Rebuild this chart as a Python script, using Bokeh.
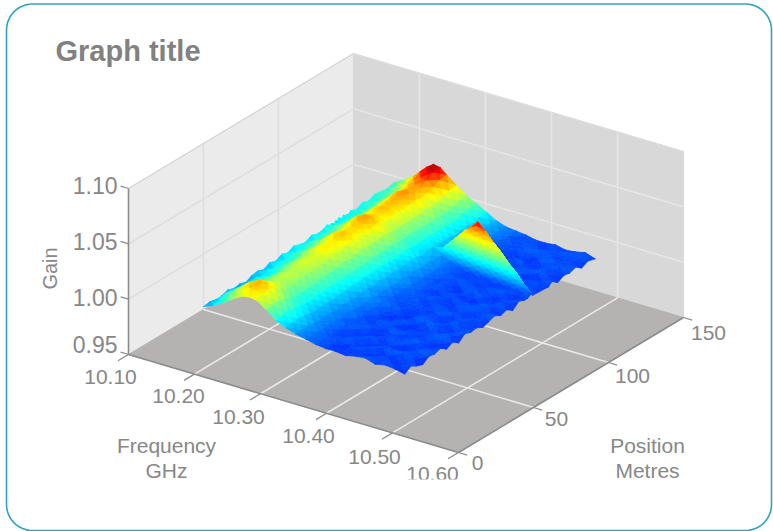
import math
from bokeh.plotting import figure
from bokeh.models import Range1d
from bokeh.core.properties import value
from bokeh.embed import file_html
from bokeh.resources import INLINE

title_text = "Graph title"
freq_ticks = [10.10, 10.20, 10.30, 10.40, 10.50, 10.60]
pos_ticks = [0, 50, 100, 150]
gain_ticks = [0.95, 1.00, 1.05, 1.10]

frequency_ghz = [10.20, 10.215, 10.23, 10.24, 10.25, 10.26, 10.27, 10.28, 10.295, 10.31, 10.325,
                 10.34, 10.355, 10.37, 10.385, 10.40, 10.415, 10.43, 10.445, 10.46, 10.475, 10.49, 10.505]
position_m = [6, 10, 14, 18, 22, 26, 30, 34, 38, 42, 46, 50, 54, 58, 62, 66, 70, 74, 78, 82, 86,
              88, 90, 91, 92, 93, 94, 95, 96, 97, 98, 99, 100, 101, 102,
              104, 108, 112, 116, 120, 124, 128, 133]
# foot of the second ridge, one value per frequency from 10.34 GHz on
ridge_foot_m = [95.5, 95, 94.5, 94, 93.5, 93, 92.5, 92, 91.5, 91, 90.5, 90]

# gain above 1.000, in thousandths; one row per frequency, one column per position
gain_milli = [
 [6,7,5,6,8,6,7,5,8,9,7,10,8,11,9,12,10,9,12,10,11, 13,10,12,11,9,12,10,13,11,10,13,11,12,10, 13,11,14,12,15,14,13,15],
 [10,12,14,13,12,11,10,12,10,12,11,13,12,14,13,13,15,13,15,14,16, 15,14,15,13,14,13,15,14,14,15,14,15,13,14, 15,14,16,15,16,17,19,20],
 [15,18,20,19,16,14,14,15,13,15,16,15,16,18,17,18,19,18,18,19,21, 20,19,19,18,18,19,18,19,20,19,20,18,19,20, 19,20,21,20,21,23,25,26],
 [19,22,25,23,20,17,18,18,17,18,20,19,20,22,21,22,24,23,22,24,26, 25,23,23,23,22,23,23,23,24,24,24,23,23,24, 24,25,26,25,26,28,31,32],
 [23,27,30,28,23,21,21,22,21,22,23,23,23,26,25,26,29,27,27,29,31, 30,28,28,27,27,27,28,28,29,29,29,28,28,29, 29,30,32,30,31,33,37,38],
 [26,30,33,31,26,23,23,24,23,24,26,25,26,29,28,29,32,30,30,32,34, 33,31,31,30,30,30,31,31,32,32,32,31,31,32, 32,33,35,33,34,37,41,42],
 [27,30,32,30,26,24,23,24,23,24,25,25,26,28,28,29,31,29,30,31,33, 32,30,30,30,29,29,30,30,31,31,31,30,30,31, 31,32,34,32,33,36,40,41],
 [26,28,29,27,23,21,20,22,21,22,23,23,24,26,25,26,28,27,27,28,30, 29,27,28,26,27,26,27,28,28,28,28,27,28,28, 28,29,30,29,30,32,35,36],
 [20,21,21,20,17,16,16,17,17,18,18,18,19,21,20,21,23,22,22,23,24, 23,22,22,22,21,22,22,23,23,22,23,22,22,23, 23,23,25,23,24,26,28,29],
 [13,14,15,14,13,12,12,13,13,14,14,14,15,16,16,16,18,17,17,18,19, 18,17,18,17,17,18,17,18,18,18,18,17,17,18, 18,18,19,18,19,20,22,23],
 [9,10,11,10,9,8,9,9,9,10,10,11,11,12,12,12,13,13,12,13,14, 14,13,12,13,12,13,13,14,13,14,13,14,13,14, 14,14,15,14,14,16,17,18],
 [6,6,7,6,5,6,6,5,7,7,6,8,8,7,9,8,9,8,9,10,10, 9,10,10,10,10,10,10,10,10,10,10,10,9,10, 10,10,9,10,11,10,12,13],
 [4,3,4,4,4,4,3,5,4,4,5,6,4,6,6,5,7,5,7,6,7, 7,6,8,9,12,12,12,12,12,12,12,12,6,6, 7,6,6,7,7,7,8,8],
 [2,3,2,1,2,3,1,3,2,3,3,4,3,3,2,4,4,3,4,4,4, 4,4,5,9,13,17,21,22,22,22,22,22,4,3, 4,3,5,4,4,5,5,5],
 [1,1,2,1,0,2,3,1,0,2,1,3,2,1,3,2,2,3,1,2,3, 2,3,5,9,13,17,21,25,29,32,32,32,3,2, 3,2,3,3,2,3,3,4],
 [1,-1,1,3,1,0,2,1,3,-1,1,2,0,3,1,2,0,1,3,1,2, 1,1,5,9,13,17,21,25,29,33,37,41,3,2, 3,0,1,3,1,2,0,3],
 [0,2,1,-1,3,1,-1,2,1,3,0,-1,2,1,0,3,1,2,-1,1,3, 1,1,5,9,13,17,21,25,29,33,36,36,2,1, 0,3,1,-1,2,1,3,1],
 [2,-1,3,1,0,1,2,3,-1,1,2,3,0,1,3,-1,2,1,1,3,0, 1,2,5,9,13,17,21,25,29,30,30,30,2,2, 1,-1,3,1,2,3,0,1],
 [3,1,-1,2,1,3,0,1,2,-1,3,1,2,3,0,1,2,-1,3,1,1, 1,0,5,9,13,17,21,25,25,25,25,25,1,1, 3,1,2,-1,1,3,1,2],
 [0,2,1,3,-1,1,3,1,0,2,3,1,-1,2,1,3,1,0,2,1,3, 1,1,5,9,13,17,19,19,19,19,19,19,1,0, 1,3,-1,2,3,1,2,0],
 [2,1,-1,3,1,0,2,1,3,1,-1,2,3,1,0,1,3,2,-1,1,2, 2,1,5,9,13,14,14,14,14,14,14,14,1,1, -1,2,3,1,2,0,3,1],
 [1,-1,3,1,2,3,-1,1,2,3,1,2,-1,3,1,2,0,1,3,1,-1, 1,1,5,8,8,8,8,8,8,8,8,8,1,2, 1,2,-1,3,1,2,1,3],
 [-1,3,0,-2,2,1,3,-1,2,-2,3,1,2,-1,1,3,0,2,-2,3,1, 1,3,3,3,3,3,3,3,3,3,3,3,1,0, 3,-1,2,1,3,-1,2,0],
]

W, H = 773, 531
GREY = "#878787"


def project(f, pos, g):
    a = (f - 10.10) / 0.50
    b = pos / 150.0
    c = (g - 0.95) / 0.15
    return 128 + 330 * a + 225 * b, 354 + 98 * a - 135 * b - 166 * c


def jet(t):
    def ch(v):
        return int(round(255 * max(0.0, min(1.0, v))))
    return "#%02x%02x%02x" % (ch(min(4 * t - 1.5, -4 * t + 4.5)),
                              ch(min(4 * t - 0.5, -4 * t + 3.5)),
                              ch(min(4 * t + 0.5, -4 * t + 2.5)))


def colour(milli):
    if milli <= 34:
        return jet(0.175 + 0.0162 * milli)
    return jet(0.726 + 0.029 * (milli - 34))


def node_position(i, j):
    first_ridge_row = len(frequency_ghz) - len(ridge_foot_m)
    if i < first_ridge_row or not (22 <= j <= 33):
        return position_m[j]
    foot = ridge_foot_m[i - first_ridge_row]
    if j == 33:
        return foot + gain_milli[i][32] / 5.5 + 0.8
    return foot + gain_milli[i][j] / 5.5


p = figure(width=W, height=H, x_range=Range1d(0, W), y_range=Range1d(H, 0),
           output_backend="svg", toolbar_location=None, min_border=0,
           outline_line_color=None, background_fill_color="white",
           border_fill_color="white")
p.axis.visible = False
p.grid.visible = False

fmin, fmax, pmin, pmax, gmin, gmax = 10.10, 10.60, 0, 150, 0.95, 1.10


def panel(points, fill):
    xy = [project(*q) for q in points]
    p.patch([q[0] for q in xy], [q[1] for q in xy], fill_color=fill, line_color=fill)


def seg(q1, q2, color, width=1.3):
    a, b = project(*q1), project(*q2)
    p.line([a[0], b[0]], [a[1], b[1]], line_color=color, line_width=width)


panel([(fmin, pmin, gmin), (fmin, pmax, gmin), (fmin, pmax, gmax), (fmin, pmin, gmax)], "#ebebeb")
panel([(fmin, pmax, gmin), (fmax, pmax, gmin), (fmax, pmax, gmax), (fmin, pmax, gmax)], "#d9d8d8")
panel([(fmin, pmin, gmin), (fmax, pmin, gmin), (fmax, pmax, gmin), (fmin, pmax, gmin)], "#b4b3b2")

for f in freq_ticks[1:-1]:
    seg((f, pmin, gmin), (f, pmax, gmin), "#e9e9e7", 1.6)
    seg((f, pmax, gmin), (f, pmax, gmax), "#e6e6e6", 1.5)
for q in pos_ticks[1:-1]:
    seg((fmin, q, gmin), (fmax, q, gmin), "#e9e9e7", 1.6)
    seg((fmin, q, gmin), (fmin, q, gmax), "#dddddd", 1.5)
for g in gain_ticks[1:-1]:
    seg((fmin, pmin, g), (fmin, pmax, g), "#dddddd", 1.5)
    seg((fmin, pmax, g), (fmax, pmax, g), "#e6e6e6", 1.5)
seg((fmin, pmin, gmax), (fmin, pmax, gmax), "#d4d4d4", 1.3)
seg((fmin, pmax, gmax), (fmax, pmax, gmax), "#dedede", 1.3)

# surface, painted from the far corner to the near one
xs, ys, cols = [], [], []
for j in range(len(position_m) - 2, -1, -1):
    for i in range(len(frequency_ghz) - 1):
        f0, f1 = frequency_ghz[i], frequency_ghz[i + 1]
        m00, m01 = gain_milli[i][j], gain_milli[i][j + 1]
        m10, m11 = gain_milli[i + 1][j], gain_milli[i + 1][j + 1]
        a00 = project(f0, node_position(i, j), 1 + m00 / 1000)
        a01 = project(f0, node_position(i, j + 1), 1 + m01 / 1000)
        a10 = project(f1, node_position(i + 1, j), 1 + m10 / 1000)
        a11 = project(f1, node_position(i + 1, j + 1), 1 + m11 / 1000)
        mc = (m00 + m01 + m10 + m11) / 4
        c = ((a00[0] + a01[0] + a10[0] + a11[0]) / 4, (a00[1] + a01[1] + a10[1] + a11[1]) / 4)
        for u, v, mu, mv in ((a01, a11, m01, m11), (a00, a01, m00, m01),
                             (a11, a10, m11, m10), (a10, a00, m10, m00)):
            xs.append([u[0], v[0], c[0]])
            ys.append([u[1], v[1], c[1]])
            cols.append(colour((mu + mv + mc) / 3))
p.patches(xs, ys, fill_color=cols, line_color=cols, line_width=0.6)

# axes
seg((fmin, pmin, gmin), (fmax, pmin, gmin), "#8c8c8c", 1.6)
seg((fmax, pmin, gmin), (fmax, pmax, gmin), "#8c8c8c", 1.6)
seg((fmin, pmin, gmin), (fmin, pmin, gmax), "#8c8c8c", 1.6)
for f in freq_ticks:
    seg((f, pmin, gmin), (f, pmin - 7, gmin), "#8c8c8c", 1.3)
for q in pos_ticks:
    seg((fmax, q, gmin), (fmax + 0.013, q, gmin), "#8c8c8c", 1.3)
for g in gain_ticks:
    seg((fmin, pmin, g), (fmin - 0.012, pmin, g), "#8c8c8c", 1.3)


def label(x, y, s, size="21px", align="center", bold=False, angle=0.0, color=GREY):
    p.text([x], [y], text=[s], text_font=value("Liberation Sans"), text_font_size=value(size),
           text_color=color, text_align=align, text_baseline="middle",
           text_font_style="bold" if bold else "normal", angle=angle)


for f, dx, dy in zip(freq_ticks, (-18, -16, -22, -18, -18, -26), (22, 22, 23, 23, 24, 21)):
    x, y = project(f, pmin, gmin)
    label(x + dx, y + dy, "%.2f" % f)
for q, dx, dy in zip(pos_ticks, (19, 23, 24, 25), (10, 11, 13, 15)):
    x, y = project(fmax, q, gmin)
    label(x + dx, y + dy, str(q))
for g, dy in zip(gain_ticks, (-10, -2, -2, -3)):
    x, y = project(fmin, pmin, g)
    label(x - 11, y + dy, "%.2f" % g, size="23px", align="right")

label(166, 445, "Frequency")
label(166, 470, "GHz")
label(647, 445, "Position")
label(647, 470, "Metres")
label(49, 268, "Gain", size="20px", angle=math.pi / 2)
label(55, 50, title_text, size="29px", align="left", bold=True, color="#818181")

# the last tick label is cut off at its foot in the original
p.quad(left=[400], right=[470], top=[479], bottom=[505], fill_color="white", line_color=None)

# rounded card border
x0, y0, x1, y1, r = 6, 3.5, 771, 530, 26
bx, by = [], []
for cx, cy, start in ((x1 - r, y0 + r, -90), (x1 - r, y1 - r, 0), (x0 + r, y1 - r, 90), (x0 + r, y0 + r, 180)):
    for k in range(13):
        th = math.radians(start + k * 7.5)
        bx.append(cx + r * math.cos(th))
        by.append(cy + r * math.sin(th))
bx.append(bx[0])
by.append(by[0])
p.line(bx, by, line_color="#2fa3bf", line_width=1.6)

open("out.html", "w").write(file_html(p, INLINE))
